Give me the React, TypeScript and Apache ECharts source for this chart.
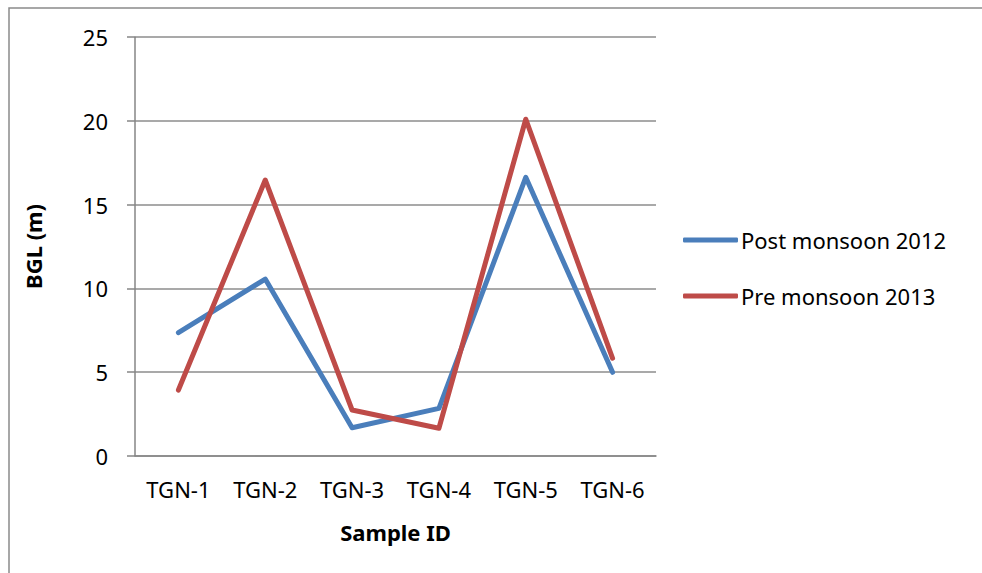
import React, { useEffect, useRef } from "react";
import * as echarts from "echarts";

const categories = ["TGN-1", "TGN-2", "TGN-3", "TGN-4", "TGN-5", "TGN-6"];
const postMonsoon2012 = [7.35, 10.55, 1.67, 2.83, 16.63, 4.98];
const preMonsoon2013 = [3.92, 16.47, 2.73, 1.64, 20.1, 5.82];
const seriesNames = ["Post monsoon 2012", "Pre monsoon 2013"];
const colors = ["#4A7EBB", "#BE4B48"];

const FONT = "Noto Sans";

export default function App() {
  const ref = useRef<HTMLDivElement>(null);
  useEffect(() => {
    if (!ref.current) return;
    const chart = echarts.init(ref.current, null, { renderer: "svg" });
    chart.setOption({
      animation: false,
      backgroundColor: "#fff",
      textStyle: { fontFamily: FONT },
      graphic: [
        {
          type: "rect",
          shape: { x: 9, y: 8, width: 1000, height: 600 },
          style: { fill: "none", stroke: "#8a8a8a", lineWidth: 1.5 },
          silent: true,
        },
      ],
      grid: { left: 135, right: 326, top: 37.2, bottom: 117.3 },
      legend: {
        orient: "vertical",
        left: 683,
        top: 229,
        padding: 0,
        itemWidth: 55,
        itemHeight: 5,
        itemGap: 34,
        icon: "roundRect",
        textStyle: { fontFamily: FONT, fontSize: 22, lineHeight: 22, color: "#000", padding: [0, 0, 0, -2] },
        data: seriesNames,
      },
      xAxis: {
        type: "category",
        data: categories,
        boundaryGap: true,
        axisLine: { lineStyle: { color: "#868686", width: 1.5 } },
        axisTick: { show: false },
        axisLabel: { color: "#000", fontSize: 22, fontFamily: FONT, margin: 22 },
        name: "Sample ID",
        nameLocation: "middle",
        nameGap: 65,
        nameTextStyle: { color: "#000", fontSize: 22, fontWeight: "bold", fontFamily: FONT },
      },
      yAxis: {
        type: "value",
        min: 0,
        max: 25,
        interval: 5,
        axisLine: { show: true, lineStyle: { color: "#868686", width: 1.5 } },
        axisTick: { show: true, length: 8, lineStyle: { color: "#868686", width: 1.5 } },
        splitLine: { lineStyle: { color: "#8c8c8c", width: 1.5 } },
        axisLabel: { color: "#000", fontSize: 22, fontFamily: FONT, margin: 27 },
        name: "BGL (m)",
        nameLocation: "middle",
        nameRotate: 90,
        nameGap: 91,
        nameTextStyle: { color: "#000", fontSize: 22, fontWeight: "bold", fontFamily: FONT },
      },
      series: [
        {
          name: seriesNames[0],
          type: "line",
          data: postMonsoon2012,
          showSymbol: false,
          symbol: "none",
          color: colors[0],
          lineStyle: { width: 5, color: colors[0], cap: "round", join: "round" },
        },
        {
          name: seriesNames[1],
          type: "line",
          data: preMonsoon2013,
          showSymbol: false,
          symbol: "none",
          color: colors[1],
          lineStyle: { width: 5, color: colors[1], cap: "round", join: "round" },
        },
      ],
    });
    return () => chart.dispose();
  }, []);
  return (
    <div
      ref={ref}
      style={{ position: "fixed", left: 0, top: 0, width: 982, height: 573 }}
    />
  );
}
